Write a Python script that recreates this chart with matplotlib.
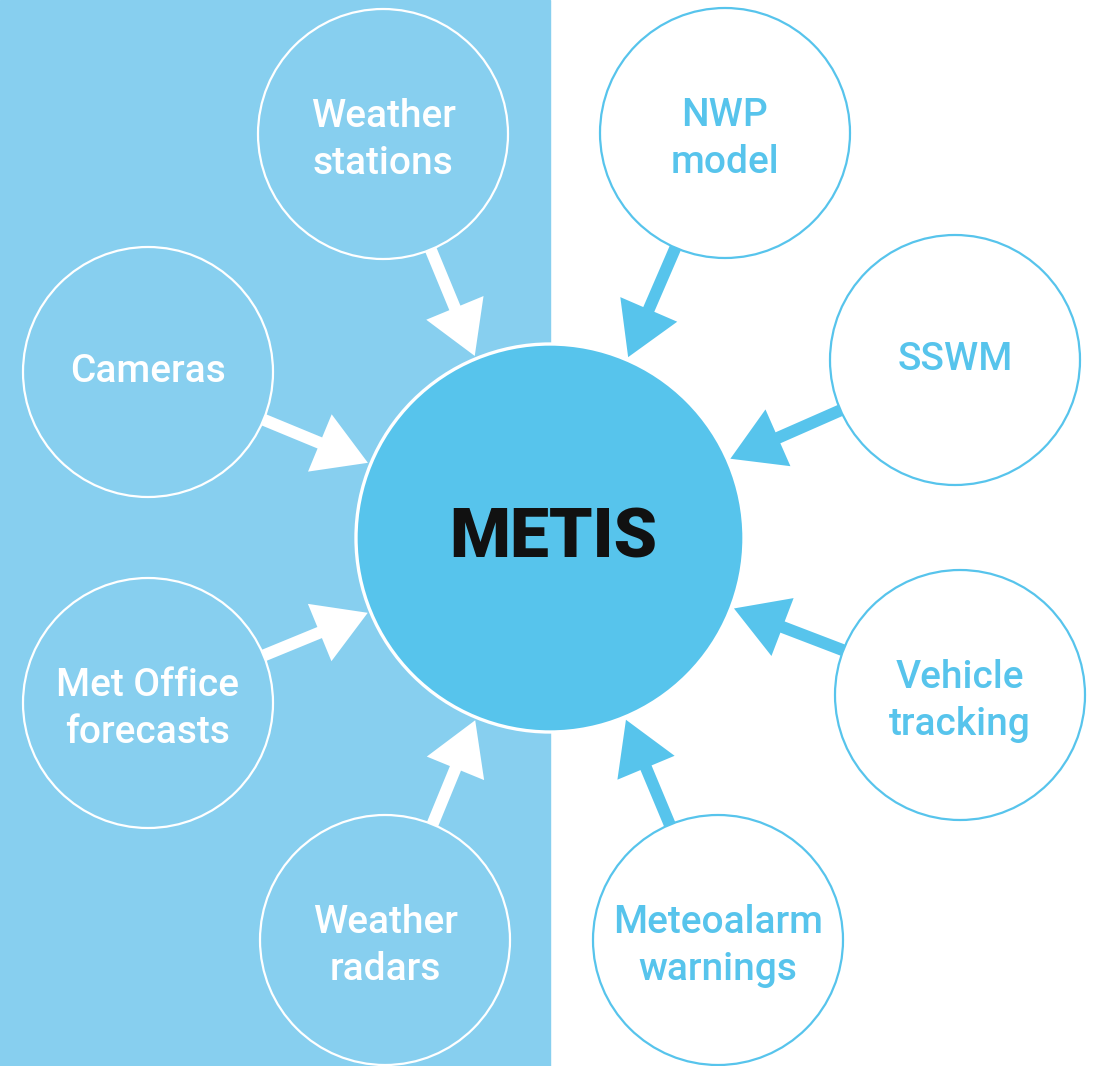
#!/usr/bin/env python3
# METIS data sources diagram: inputs on the left (Met Office side) and right
import numpy as np
import matplotlib.pyplot as plt
from matplotlib.patches import Circle, FancyArrow, Rectangle

left_labels = ['Weather\nstations', 'Cameras', 'Met Office\nforecasts', 'Weather\nradars']
right_labels = ['NWP\nmodel', 'SSWM', 'Vehicle\ntracking', 'Meteoalarm\nwarnings']
centre_label = 'METIS'

# layout (pixels, y down)
left_xy = [(383, 134), (148, 372), (148, 703), (385, 940)]
right_xy = [(725, 133), (955, 360), (960, 695), (718, 940)]
hub = (550, 538)
R_HUB = 194
R_NODE = 125

BG_LEFT = '#87cfef'
BLUE = '#57c4ec'

W, H = 1102, 1066
fig = plt.figure(figsize=(W / 100, H / 100), dpi=100)
ax = fig.add_axes([0, 0, 1, 1])
ax.set_xlim(0, W)
ax.set_ylim(H, 0)
ax.set_aspect('equal')
ax.axis('off')

ax.add_patch(Rectangle((0, 0), 550, H, color=BG_LEFT, zorder=0))

font = 'Roboto'


def arrow(c, color):
    d = np.array(hub, float) - np.array(c, float)
    u = d / np.hypot(*d)
    start = np.array(c) + u * R_NODE
    tip = np.array(hub) - u * (R_HUB + 3)
    ax.add_patch(FancyArrow(start[0], start[1], *(tip - start), width=12,
                            head_width=62, head_length=52,
                            length_includes_head=True, color=color,
                            lw=0, zorder=2))


def node(lab, c, fc, ec, tc):
    ax.add_patch(Circle(c, R_NODE, fc=fc, ec=ec, lw=1.6, zorder=1))
    dy = 6 if '\n' in lab else 0
    ax.text(c[0], c[1] + dy, lab, color=tc, ha='center', va='center',
            fontsize=28, fontweight='medium', family=font,
            linespacing=1.32, zorder=3)
    arrow(c, ec if ec != 'white' else 'white')


for lab, c in zip(left_labels, left_xy):
    node(lab, c, 'none', 'white', 'white')

for lab, c in zip(right_labels, right_xy):
    node(lab, c, 'white', BLUE, BLUE)

ax.add_patch(Circle(hub, R_HUB, fc=BLUE, ec='white', lw=2.4, zorder=4))
ax.text(hub[0] + 3, hub[1] + 1, centre_label, color='#111111', ha='center',
        va='center', fontsize=50, fontweight='black', family=font, zorder=5)

fig.savefig('out.png', dpi=100)
